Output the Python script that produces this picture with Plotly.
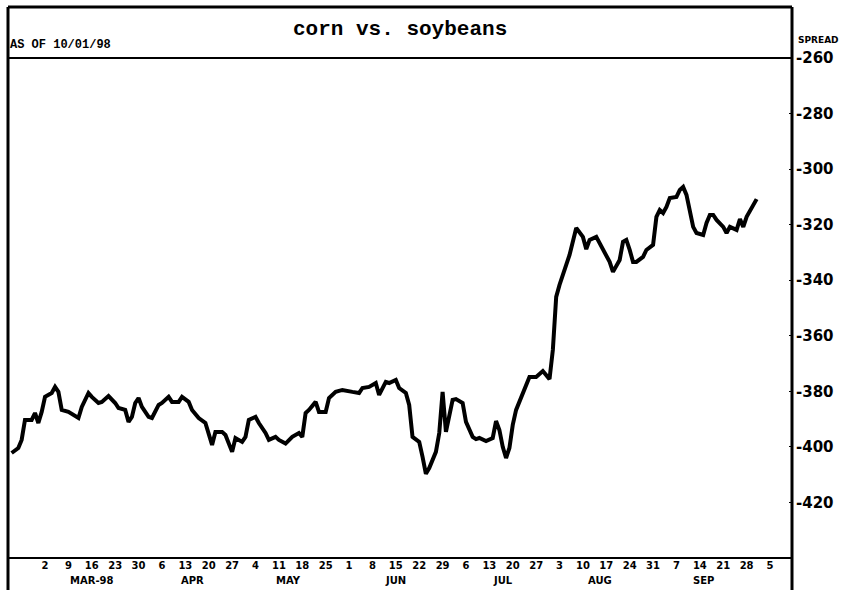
import plotly.graph_objects as go

# ---- data ----
dates = [
    "1998-02-20", "1998-02-22", "1998-02-23", "1998-02-24", "1998-02-26", "1998-02-27", "1998-02-28",
    "1998-03-01", "1998-03-02", "1998-03-04", "1998-03-05", "1998-03-06", "1998-03-07", "1998-03-09",
    "1998-03-12", "1998-03-13", "1998-03-15", "1998-03-16", "1998-03-18", "1998-03-19", "1998-03-21",
    "1998-03-23", "1998-03-24", "1998-03-26", "1998-03-27", "1998-03-28", "1998-03-29", "1998-03-30",
    "1998-03-31", "1998-04-02", "1998-04-03", "1998-04-05", "1998-04-06", "1998-04-08", "1998-04-09",
    "1998-04-11", "1998-04-12", "1998-04-14", "1998-04-15", "1998-04-17", "1998-04-19", "1998-04-20",
    "1998-04-21", "1998-04-22", "1998-04-24", "1998-04-25", "1998-04-27", "1998-04-28", "1998-04-30",
    "1998-05-01", "1998-05-02", "1998-05-04", "1998-05-05", "1998-05-07", "1998-05-08", "1998-05-10",
    "1998-05-11", "1998-05-13", "1998-05-15", "1998-05-17", "1998-05-18", "1998-05-19", "1998-05-20",
    "1998-05-22", "1998-05-23", "1998-05-25", "1998-05-26", "1998-05-28", "1998-05-30", "1998-06-02",
    "1998-06-04", "1998-06-05", "1998-06-07", "1998-06-09", "1998-06-10", "1998-06-12", "1998-06-13",
    "1998-06-15", "1998-06-16", "1998-06-18", "1998-06-19", "1998-06-20", "1998-06-22", "1998-06-23",
    "1998-06-24", "1998-06-25", "1998-06-27", "1998-06-28", "1998-06-29", "1998-06-30", "1998-07-01",
    "1998-07-02", "1998-07-03", "1998-07-05", "1998-07-06", "1998-07-08", "1998-07-09", "1998-07-10",
    "1998-07-12", "1998-07-14", "1998-07-15", "1998-07-16", "1998-07-17", "1998-07-18", "1998-07-19",
    "1998-07-20", "1998-07-21", "1998-07-23", "1998-07-25", "1998-07-27", "1998-07-29", "1998-07-31",
    "1998-08-01", "1998-08-02", "1998-08-03", "1998-08-05", "1998-08-06", "1998-08-08", "1998-08-10",
    "1998-08-11", "1998-08-12", "1998-08-14", "1998-08-15", "1998-08-17", "1998-08-18", "1998-08-19",
    "1998-08-21", "1998-08-22", "1998-08-23", "1998-08-24", "1998-08-25", "1998-08-26", "1998-08-28",
    "1998-08-29", "1998-08-31", "1998-09-01", "1998-09-02", "1998-09-03", "1998-09-04", "1998-09-05",
    "1998-09-07", "1998-09-08", "1998-09-09", "1998-09-10", "1998-09-11", "1998-09-12", "1998-09-13",
    "1998-09-15", "1998-09-16", "1998-09-17", "1998-09-18", "1998-09-19", "1998-09-21", "1998-09-22",
    "1998-09-23", "1998-09-24", "1998-09-25", "1998-09-26", "1998-09-27", "1998-09-28", "1998-09-30",
    "1998-10-01",
]

spread = [
    -402.2, -400.4, -397.5, -390.3, -390.3, -387.8, -391.4,
    -387.4, -382.0, -380.6, -378.4, -380.2, -386.7, -387.4,
    -389.6, -385.6, -380.6, -382.0, -384.2, -383.8, -381.7,
    -384.2, -386.0, -386.7, -391.0, -389.2, -384.2, -382.4,
    -385.6, -389.2, -389.6, -384.9, -384.2, -382.0, -383.8,
    -383.8, -382.0, -383.8, -386.7, -389.6, -391.4, -395.7,
    -399.3, -394.6, -394.6, -395.7, -401.8, -396.8, -398.2,
    -396.4, -390.3, -389.2, -391.4, -395.0, -397.5, -396.4,
    -397.5, -398.8, -396.4, -395.0, -396.4, -387.8, -386.7,
    -383.8, -387.4, -387.4, -382.4, -380.2, -379.5, -380.2,
    -380.6, -378.8, -378.4, -377.0, -381.3, -376.6, -377.0,
    -375.9, -378.8, -380.6, -384.9, -396.4, -398.2, -403.6,
    -409.7, -407.6, -401.8, -395.0, -380.2, -394.6, -389.2,
    -383.1, -382.8, -384.2, -391.0, -396.4, -397.2, -396.8,
    -397.9, -396.8, -390.7, -393.9, -400.0, -404.0, -400.4,
    -392.1, -386.7, -380.6, -374.8, -374.8, -372.7, -375.6,
    -365.1, -346.0, -341.7, -334.5, -330.9, -321.2, -324.4,
    -328.8, -325.5, -324.4, -326.6, -331.6, -333.4, -337.0,
    -332.7, -326.2, -325.5, -329.1, -333.4, -333.4, -331.6,
    -329.1, -327.3, -317.2, -314.7, -315.8, -313.6, -310.4,
    -310.0, -307.5, -306.4, -309.3, -314.7, -320.8, -323.0,
    -323.7, -319.4, -316.5, -316.5, -318.3, -320.8, -323.0,
    -320.8, -321.2, -321.9, -318.0, -320.8, -317.2, -312.9,
    -310.8,
]

week_ticks = [
    "1998-03-02", "1998-03-09", "1998-03-16", "1998-03-23", "1998-03-30",
    "1998-04-06", "1998-04-13", "1998-04-20", "1998-04-27",
    "1998-05-04", "1998-05-11", "1998-05-18", "1998-05-25",
    "1998-06-01", "1998-06-08", "1998-06-15", "1998-06-22", "1998-06-29",
    "1998-07-06", "1998-07-13", "1998-07-20", "1998-07-27",
    "1998-08-03", "1998-08-10", "1998-08-17", "1998-08-24", "1998-08-31",
    "1998-09-07", "1998-09-14", "1998-09-21", "1998-09-28", "1998-10-05",
]
week_labels = [
    "2", "9", "16", "23", "30", "6", "13", "20", "27", "4", "11", "18", "25",
    "1", "8", "15", "22", "29", "6", "13", "20", "27", "3", "10", "17", "24", "31",
    "7", "14", "21", "28", "5",
]
month_pos = ["1998-03-16", "1998-04-15", "1998-05-14", "1998-06-15",
             "1998-07-17", "1998-08-15", "1998-09-15"]
month_labels = ["MAR-98", "APR", "MAY", "JUN", "JUL", "AUG", "SEP"]

y_ticks = [-260, -280, -300, -320, -340, -360, -380, -400, -420]
y_labels = ["-260", "-280", "-300", "-320", "-340", "-360", "-380", "-400", "-420"]

title_text = "corn vs. soybeans"
asof_text = "AS OF 10/01/98"
unit_text = "SPREAD"

# ---- figure ----
fig = go.Figure()
fig.add_trace(go.Scatter(
    x=dates, y=spread, mode="lines",
    line=dict(color="black", width=4),
    hoverinfo="skip", showlegend=False,
))

bold_sans = dict(family="DejaVu Sans", color="black", weight="bold")

fig.update_layout(
    width=847, height=590,
    margin=dict(l=8, r=55, t=58, b=32),
    paper_bgcolor="white", plot_bgcolor="white",
    showlegend=False,
    xaxis=dict(
        type="date",
        range=["1998-02-18 22:00", "1998-10-11 14:00"],
        tickmode="array", tickvals=week_ticks, ticktext=week_labels,
        tickfont=dict(size=10, **bold_sans),
        showgrid=False, zeroline=False, showline=False, ticks="",
        tickangle=0, automargin=False,
    ),
    yaxis=dict(
        side="right",
        range=[-440, -260],
        tickmode="array", tickvals=y_ticks, ticktext=y_labels,
        tickfont=dict(size=15, **bold_sans),
        showgrid=False, zeroline=False, showline=False,
        ticks="inside", ticklen=3, tickwidth=1, tickcolor="black",
        ticklabelstandoff=3, automargin=False,
    ),
)

# frame lines
top_y = 1 + 51 / 500
bot_y = -32 / 500
frame = [
    dict(x0=0, x1=0, y0=bot_y, y1=top_y, w=3),
    dict(x0=1, x1=1, y0=bot_y, y1=top_y, w=3),
    dict(x0=0, x1=1, y0=top_y, y1=top_y, w=3),
    dict(x0=0, x1=1, y0=1, y1=1, w=2),
    dict(x0=0, x1=1, y0=0, y1=0, w=2),
]
for f in frame:
    fig.add_shape(type="line", xref="paper", yref="paper",
                  x0=f["x0"], x1=f["x1"], y0=f["y0"], y1=f["y1"],
                  line=dict(color="black", width=f["w"]))

# month labels under the weekly ticks
for mp, ml in zip(month_pos, month_labels):
    fig.add_annotation(x=mp, xref="x", y=-0.044, yref="paper", yanchor="middle",
                       text=ml, showarrow=False,
                       font=dict(size=10, **bold_sans))

fig.add_annotation(x=0.5, xref="paper", y=1.056, yref="paper", yanchor="middle",
                   text=title_text, showarrow=False,
                   font=dict(family="Liberation Mono", size=21, color="black", weight="bold"))
fig.add_annotation(x=0.0, xref="paper", y=1.026, yref="paper", xanchor="left", yanchor="middle",
                   text=asof_text, showarrow=False,
                   font=dict(family="Liberation Mono", size=12, color="black", weight="bold"))
fig.add_annotation(x=1.005, xref="paper", y=1.036, yref="paper",
                   xanchor="left", yanchor="middle",
                   text=unit_text, showarrow=False,
                   font=dict(size=9, **bold_sans))

fig.write_html("out.html", config={"displayModeBar": False},
               post_script="document.body.style.margin='0';")
